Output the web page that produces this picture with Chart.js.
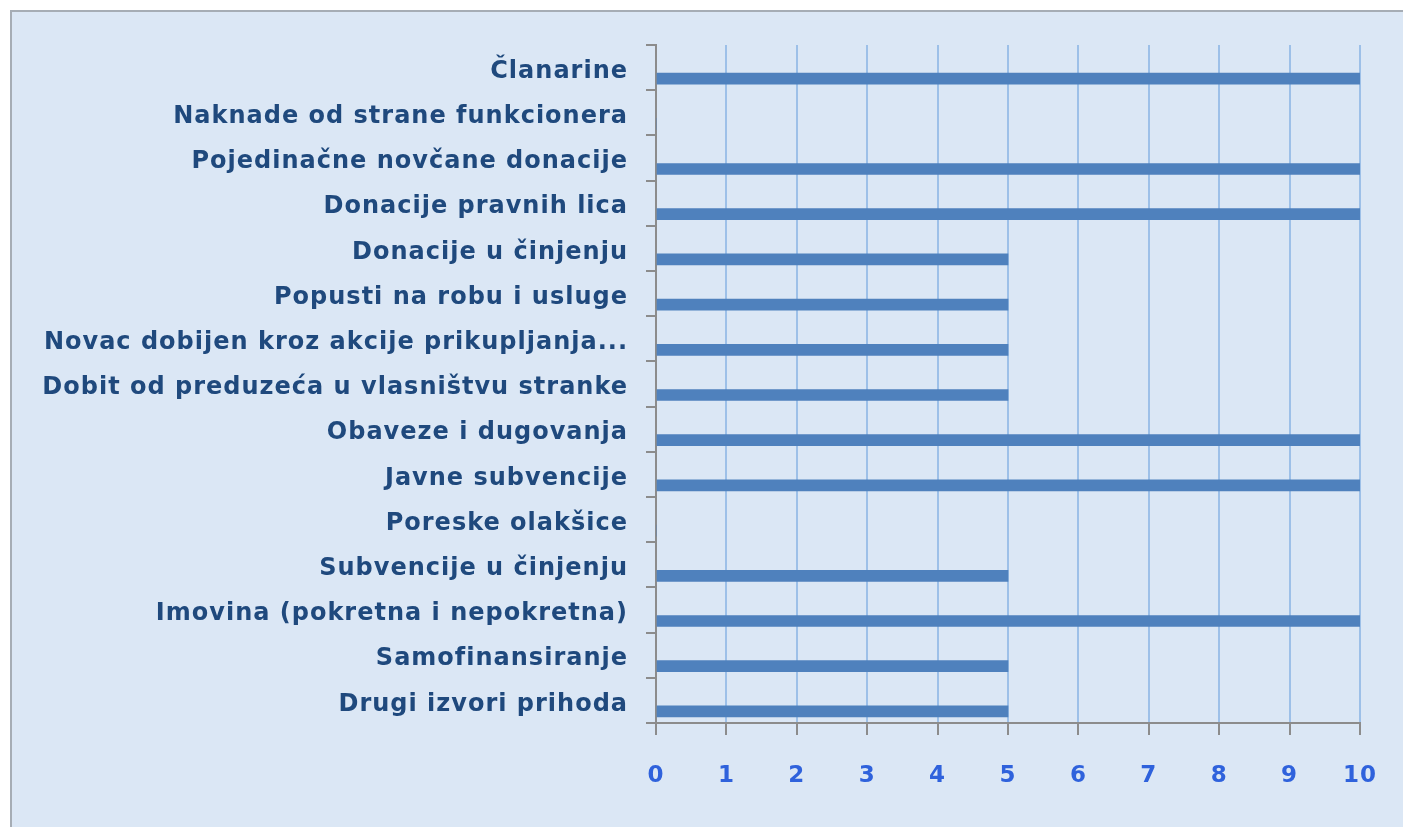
<!DOCTYPE html>
<html>
<head>
<meta charset="utf-8">
<script src="https://cdn.jsdelivr.net/npm/chart.js@4.4.1/dist/chart.umd.min.js"></script>
<style>
  html, body { margin: 0; padding: 0; background: #ffffff; }
  #wrap { position: absolute; left: 0; top: 0; width: 1403px; height: 827px; }
</style>
</head>
<body>
<div id="wrap"><canvas id="c" width="1403" height="827"></canvas></div>
<script>
const categories = [
  "Članarine",
  "Naknade od strane funkcionera",
  "Pojedinačne novčane donacije",
  "Donacije pravnih lica",
  "Donacije u činjenju",
  "Popusti na robu i usluge",
  "Novac dobijen kroz akcije prikupljanja...",
  "Dobit od preduzeća u vlasništvu stranke",
  "Obaveze i dugovanja",
  "Javne subvencije",
  "Poreske olakšice",
  "Subvencije u činjenju",
  "Imovina (pokretna i nepokretna)",
  "Samofinansiranje",
  "Drugi izvori prihoda"
];
const values = [10, 0, 10, 10, 5, 5, 5, 5, 10, 10, 0, 5, 10, 5, 5];
const xTicks = [0, 1, 2, 3, 4, 5, 6, 7, 8, 9, 10];

const frame = {
  id: "frame",
  beforeDraw: (chart) => {
    const { ctx } = chart;
    ctx.save();
    ctx.fillStyle = "#dbe7f5";
    ctx.fillRect(10, 10, chart.width - 10, chart.height - 10);
    ctx.strokeStyle = "#a6adb5";
    ctx.lineWidth = 2;
    ctx.beginPath();
    ctx.moveTo(11, chart.height);
    ctx.lineTo(11, 11);
    ctx.lineTo(chart.width, 11);
    ctx.stroke();
    ctx.restore();
    // the original labels are loosely spaced
    ctx.letterSpacing = "1px";
  },
  // bars sit in the lower half of each band in the original
  beforeDatasetsDraw: (chart) => {
    chart.ctx.save();
    chart.ctx.translate(0, 11);
  },
  afterDatasetsDraw: (chart) => {
    chart.ctx.restore();
  }
};

new Chart(document.getElementById("c"), {
  type: "bar",
  data: {
    labels: categories,
    datasets: [{
      data: values,
      backgroundColor: "#4f81bd",
      borderWidth: 0,
      barThickness: 11
    }]
  },
  options: {
    indexAxis: "y",
    responsive: false,
    animation: false,
    layout: { padding: { left: 0, right: 41, top: 45, bottom: 44 } },
    plugins: {
      legend: { display: false },
      tooltip: { enabled: false }
    },
    scales: {
      x: {
        min: 0,
        max: 10,
        afterBuildTicks: (scale) => { scale.ticks = xTicks.map((v) => ({ value: v })); },
        afterFit: (scale) => { scale.height = 60; },
        grid: {
          color: "#9dc0e8",
          tickColor: "#8c8c8c",
          tickLength: 12,
          lineWidth: 2
        },
        border: { color: "#8c8c8c", width: 2 },
        ticks: {
          color: "#2f62dc",
          padding: 27,
          maxRotation: 0,
          font: { family: "DejaVu Sans", size: 23, weight: "bold" }
        }
      },
      y: {
        afterFit: (scale) => { scale.width = 656; },
        grid: {
          drawOnChartArea: false,
          tickColor: "#8c8c8c",
          tickLength: 10,
          lineWidth: 2
        },
        border: { color: "#8c8c8c", width: 2 },
        ticks: {
          color: "#1f497d",
          padding: 18,
          labelOffset: 4,
          autoSkip: false,
          font: { family: "DejaVu Sans", size: 24, weight: "bold" }
        }
      }
    }
  },
  plugins: [frame]
});
</script>
</body>
</html>
